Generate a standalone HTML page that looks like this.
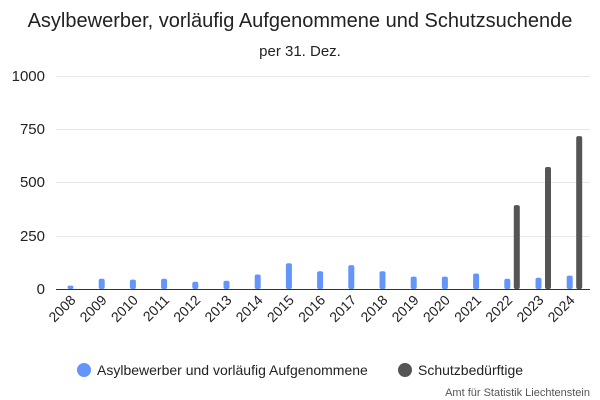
<!DOCTYPE html>
<html><head><meta charset="utf-8"><style>body{margin:0;background:#fff}svg{display:block;font-family:"Liberation Sans",sans-serif}</style></head><body>
<svg width="600" height="400" viewBox="0 0 600 400">
<text x="300" y="27" text-anchor="middle" font-size="20" fill="#222">Asylbewerber, vorläufig Aufgenommene und Schutzsuchende</text>
<text x="300" y="56" text-anchor="middle" font-size="15" fill="#222">per 31. Dez.</text>
<g stroke="#e6e6e6" stroke-width="1">
<line x1="56" x2="590" y1="76.5" y2="76.5"/><line x1="56" x2="590" y1="129.5" y2="129.5"/><line x1="56" x2="590" y1="182.5" y2="182.5"/><line x1="56" x2="590" y1="236.5" y2="236.5"/>
</g>
<g font-size="15" fill="#222" text-anchor="end">
<text x="45" y="81">1000</text><text x="45" y="134">750</text><text x="45" y="187">500</text><text x="45" y="241">250</text><text x="45" y="294">0</text>
</g>
<g fill="#6495fb">
<rect x="67.5" y="285.6" width="6" height="3.4" rx="2"/>
<rect x="98.7" y="278.8" width="6" height="10.2" rx="2"/>
<rect x="129.9" y="279.6" width="6" height="9.4" rx="2"/>
<rect x="161.1" y="278.8" width="6" height="10.2" rx="2"/>
<rect x="192.3" y="281.8" width="6" height="7.2" rx="2"/>
<rect x="223.5" y="280.7" width="6" height="8.3" rx="2"/>
<rect x="254.7" y="274.5" width="6" height="14.5" rx="2"/>
<rect x="285.9" y="263.2" width="6" height="25.8" rx="2"/>
<rect x="317.1" y="271.3" width="6" height="17.7" rx="2"/>
<rect x="348.3" y="265.1" width="6" height="23.9" rx="2"/>
<rect x="379.5" y="271.3" width="6" height="17.7" rx="2"/>
<rect x="410.7" y="276.6" width="6" height="12.4" rx="2"/>
<rect x="441.9" y="276.6" width="6" height="12.4" rx="2"/>
<rect x="473.1" y="273.5" width="6" height="15.5" rx="2"/>
<rect x="504.3" y="278.8" width="6" height="10.2" rx="2"/>
<rect x="535.5" y="277.7" width="6" height="11.3" rx="2"/>
<rect x="566.7" y="275.6" width="6" height="13.4" rx="2"/>
</g>
<g fill="#555">
<rect x="513.8" y="205.1" width="6" height="83.9" rx="2"/>
<rect x="545" y="167" width="6" height="122" rx="2"/>
<rect x="576.2" y="136.1" width="6" height="152.9" rx="2"/>
</g>
<line x1="56" x2="590" y1="289.5" y2="289.5" stroke="#333" stroke-width="1"/>
<g font-size="14" fill="#222" text-anchor="end">
<text x="76.5" y="301" transform="rotate(-45 76.5 301)">2008</text>
<text x="107.7" y="301" transform="rotate(-45 107.7 301)">2009</text>
<text x="138.9" y="301" transform="rotate(-45 138.9 301)">2010</text>
<text x="170.1" y="301" transform="rotate(-45 170.1 301)">2011</text>
<text x="201.3" y="301" transform="rotate(-45 201.3 301)">2012</text>
<text x="232.5" y="301" transform="rotate(-45 232.5 301)">2013</text>
<text x="263.7" y="301" transform="rotate(-45 263.7 301)">2014</text>
<text x="294.9" y="301" transform="rotate(-45 294.9 301)">2015</text>
<text x="326.1" y="301" transform="rotate(-45 326.1 301)">2016</text>
<text x="357.3" y="301" transform="rotate(-45 357.3 301)">2017</text>
<text x="388.5" y="301" transform="rotate(-45 388.5 301)">2018</text>
<text x="419.7" y="301" transform="rotate(-45 419.7 301)">2019</text>
<text x="450.9" y="301" transform="rotate(-45 450.9 301)">2020</text>
<text x="482.1" y="301" transform="rotate(-45 482.1 301)">2021</text>
<text x="513.3" y="301" transform="rotate(-45 513.3 301)">2022</text>
<text x="544.5" y="301" transform="rotate(-45 544.5 301)">2023</text>
<text x="575.7" y="301" transform="rotate(-45 575.7 301)">2024</text>
</g>
<circle cx="84" cy="370" r="7" fill="#6495fb"/><text x="97" y="375" font-size="14" fill="#222">Asylbewerber und vorläufig Aufgenommene</text>
<circle cx="405" cy="370" r="7" fill="#555"/><text x="418" y="375" font-size="14" fill="#222">Schutzbedürftige</text>
<text x="590" y="396" text-anchor="end" font-size="11" fill="#555">Amt für Statistik Liechtenstein</text>
</svg></body></html>
